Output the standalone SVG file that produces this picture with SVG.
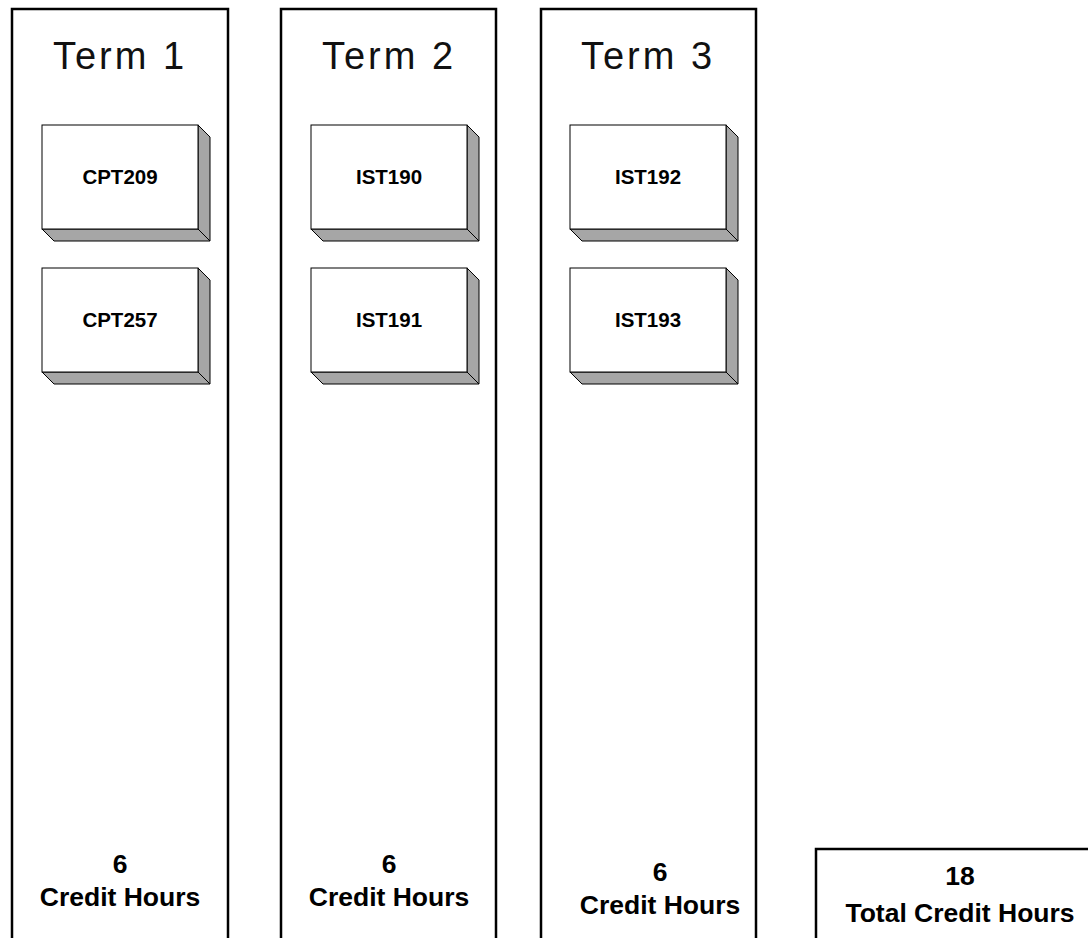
<svg xmlns="http://www.w3.org/2000/svg" width="1088" height="938" viewBox="0 0 1088 938">
<defs>
<style>
.col{fill:#fff;stroke:#000;stroke-width:2.5}
.title{font-family:"Liberation Sans",Arial,sans-serif;font-size:38px;letter-spacing:3px;text-anchor:middle;fill:#111}
.face{fill:#fff;stroke:#000;stroke-width:1}
.shade{fill:#a6a6a6;stroke:#000;stroke-width:1;stroke-linejoin:round}
.lbl{font-family:"Liberation Sans",Arial,sans-serif;font-size:20.5px;font-weight:bold;text-anchor:middle;fill:#000}
.foot{font-family:"Liberation Sans",Arial,sans-serif;font-size:26.5px;font-weight:bold;text-anchor:middle;fill:#000}
</style>
<g id="box">
<polygon class="shade" points="156,0 168,12 168,116 156,104"/>
<polygon class="shade" points="0,104 156,104 168,116 12,116"/>
<rect class="face" x="0" y="0" width="156" height="104"/>
</g>
</defs>
<rect width="1088" height="938" fill="#fff"/>
<g id="term1">
<rect class="col" x="12" y="9" width="216" height="945"/>
<text class="title" x="120" y="69">Term 1</text>
<text class="foot" x="120" y="873">6</text>
<text class="foot" x="120" y="906">Credit Hours</text>
</g>
<g id="term2">
<rect class="col" x="281" y="9" width="215" height="945"/>
<text class="title" x="389" y="69">Term 2</text>
<text class="foot" x="389" y="873">6</text>
<text class="foot" x="389" y="906">Credit Hours</text>
</g>
<g id="term3">
<rect class="col" x="541" y="9" width="215" height="945"/>
<text class="title" x="648" y="69">Term 3</text>
<text class="foot" x="660" y="881">6</text>
<text class="foot" x="660" y="914">Credit Hours</text>
</g>
<g id="total">
<rect class="col" x="816" y="849" width="300" height="120"/>
<text class="foot" x="960" y="885">18</text>
<text class="foot" x="960" y="922">Total Credit Hours</text>
</g>
<g id="cpt209"><use href="#box" x="42" y="125"/><text class="lbl" x="120" y="184">CPT209</text></g>
<g id="cpt257"><use href="#box" x="42" y="268"/><text class="lbl" x="120" y="327">CPT257</text></g>
<g id="ist190"><use href="#box" x="311" y="125"/><text class="lbl" x="389" y="184">IST190</text></g>
<g id="ist191"><use href="#box" x="311" y="268"/><text class="lbl" x="389" y="327">IST191</text></g>
<g id="ist192"><use href="#box" x="570" y="125"/><text class="lbl" x="648" y="184">IST192</text></g>
<g id="ist193"><use href="#box" x="570" y="268"/><text class="lbl" x="648" y="327">IST193</text></g>
<g id="connectors"/>
</svg>
